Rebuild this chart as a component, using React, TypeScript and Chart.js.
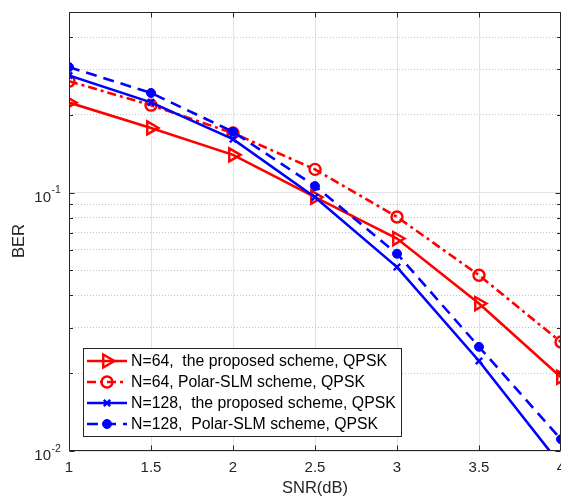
import React, { useEffect, useRef } from 'react';
import { Chart, registerables } from 'chart.js';
import { drawPoint } from 'chart.js/helpers';

Chart.register(...registerables);

// ---------- data ----------
const snr = [1, 1.5, 2, 2.5, 3, 3.5, 4];
const ber64Proposed = [0.223, 0.178, 0.14, 0.096, 0.0664, 0.0372, 0.0193];
const ber64PolarSLM = [0.27, 0.218, 0.17, 0.123, 0.0805, 0.0479, 0.0264];
const ber128Proposed = [0.284, 0.2235, 0.161, 0.096, 0.0515, 0.0223, 0.0088];
const ber128PolarSLM = [0.306, 0.243, 0.172, 0.106, 0.058, 0.0253, 0.0111];

const seriesLabels = [
  'N=64,  the proposed scheme, QPSK',
  'N=64, Polar-SLM scheme, QPSK',
  'N=128,  the proposed scheme, QPSK',
  'N=128,  Polar-SLM scheme, QPSK',
];

const xTicks = [1, 1.5, 2, 2.5, 3, 3.5, 4];
const xTickLabels = ['1', '1.5', '2', '2.5', '3', '3.5', '4'];
const yTicks = [
  0.01, 0.02, 0.03, 0.04, 0.05, 0.06, 0.07, 0.08, 0.09,
  0.1, 0.2, 0.3, 0.4, 0.5,
];
const yMajorTicks = [0.01, 0.1];
const yMajorExponents = ['-2', '-1'];
const xTitle = 'SNR(dB)';
const yTitle = 'BER';

// ---------- style ----------
const FONT = "'Liberation Sans', Arial, Helvetica, sans-serif";
const AXIS_COLOR = '#262626';
const RED = '#ff0000';
const BLUE = '#0000ff';

const isMajor = (v: number | undefined) =>
  v !== undefined && yMajorTicks.some((m) => Math.abs(m - v) < 1e-9);

const toPoints = (ys: number[]) => snr.map((x, i) => ({ x, y: ys[i] }));

const framePlugin = {
  id: 'matlabFrame',
  afterDatasetsDraw(chart: any) {
    const { ctx, chartArea } = chart;
    const { left, right, top, bottom } = chartArea;
    const xs = chart.scales.x;
    const ys = chart.scales.y;
    const L = Math.round(left) + 0.5;
    const R = Math.round(right) - 0.5;
    const T = Math.round(top) + 0.5;
    const B = Math.round(bottom) - 0.5;
    ctx.save();
    ctx.strokeStyle = AXIS_COLOR;
    ctx.lineWidth = 1;
    ctx.setLineDash([]);
    // inward ticks
    ctx.beginPath();
    xTicks.forEach((v) => {
      const px = Math.min(Math.round(xs.getPixelForValue(v)) + 0.5, R);
      ctx.moveTo(px, B);
      ctx.lineTo(px, B - 5);
      ctx.moveTo(px, T);
      ctx.lineTo(px, T + 5);
    });
    yTicks.forEach((v) => {
      const py = Math.round(ys.getPixelForValue(v)) + 0.5;
      const len = isMajor(v) ? 5 : 3.5;
      ctx.moveTo(L, py);
      ctx.lineTo(L + len, py);
      ctx.moveTo(R, py);
      ctx.lineTo(R - len, py);
    });
    ctx.stroke();
    // box
    ctx.beginPath();
    ctx.rect(L, T, R - L, B - T);
    ctx.stroke();

    // y major labels 10^n
    ctx.fillStyle = AXIS_COLOR;
    ctx.textBaseline = 'alphabetic';
    yMajorTicks.forEach((v, i) => {
      const py = ys.getPixelForValue(v);
      ctx.font = `15px ${FONT}`;
      ctx.textAlign = 'right';
      ctx.fillText('10', 51, py + 9);
      ctx.font = `10.5px ${FONT}`;
      ctx.textAlign = 'left';
      ctx.fillText(yMajorExponents[i], 51.5, py + 0.5);
    });

    // y title
    ctx.save();
    ctx.translate(19, 241);
    ctx.rotate(-Math.PI / 2);
    ctx.font = `16.5px ${FONT}`;
    ctx.textAlign = 'center';
    ctx.textBaseline = 'middle';
    ctx.fillText(yTitle, 0, 0);
    ctx.restore();
    ctx.restore();
  },
  afterDraw(chart: any) {
    const { ctx } = chart;
    const boxL = 83.5, boxT = 348.5, boxR = 401.5, boxB = 436.5;
    ctx.save();
    ctx.fillStyle = '#ffffff';
    ctx.fillRect(boxL, boxT, boxR - boxL, boxB - boxT);
    ctx.strokeStyle = AXIS_COLOR;
    ctx.lineWidth = 1;
    ctx.setLineDash([]);
    ctx.strokeRect(boxL, boxT, boxR - boxL, boxB - boxT);
    const rowY = [361, 382, 403, 424];
    chart.data.datasets.forEach((ds: any, i: number) => {
      const y = rowY[i];
      ctx.save();
      ctx.strokeStyle = ds.borderColor;
      ctx.lineWidth = ds.borderWidth;
      ctx.setLineDash(ds.borderDash || []);
      ctx.beginPath();
      ctx.moveTo(87, y);
      ctx.lineTo(127, y);
      ctx.stroke();
      ctx.setLineDash([]);
      ctx.fillStyle = ds.pointBackgroundColor;
      ctx.strokeStyle = ds.pointBorderColor;
      ctx.lineWidth = ds.pointBorderWidth;
      drawPoint(
        ctx,
        {
          pointStyle: ds.pointStyle,
          rotation: ds.pointRotation || 0,
          radius: ds.pointRadius,
          borderWidth: ds.pointBorderWidth,
        } as any,
        107,
        y
      );
      ctx.restore();
      ctx.fillStyle = '#000000';
      ctx.font = `15.8px ${FONT}`;
      ctx.textAlign = 'left';
      ctx.textBaseline = 'middle';
      ctx.fillText(seriesLabels[i], 131, y + 0.5);
    });
    ctx.restore();
  },
};

export default function App() {
  const canvasRef = useRef<HTMLCanvasElement | null>(null);

  useEffect(() => {
    const canvas = canvasRef.current;
    if (!canvas) return;
    const chart = new Chart(canvas, {
      type: 'line',
      data: {
        datasets: [
          {
            label: seriesLabels[0],
            data: toPoints(ber64Proposed),
            borderColor: RED,
            borderWidth: 2.6,
            pointStyle: 'triangle',
            pointRotation: 90,
            pointRadius: 7.5,
            pointBorderWidth: 2.4,
            pointBorderColor: RED,
            pointBackgroundColor: 'rgba(0,0,0,0)',
            order: 3,
          },
          {
            label: seriesLabels[1],
            data: toPoints(ber64PolarSLM),
            borderColor: RED,
            borderWidth: 2.6,
            borderDash: [9, 4, 3, 4],
            pointStyle: 'circle',
            pointRadius: 5.5,
            pointBorderWidth: 2.4,
            pointBorderColor: RED,
            pointBackgroundColor: 'rgba(0,0,0,0)',
            order: 2,
          },
          {
            label: seriesLabels[2],
            data: toPoints(ber128Proposed),
            borderColor: BLUE,
            borderWidth: 2.6,
            pointStyle: 'crossRot',
            pointRadius: 4.5,
            pointBorderWidth: 2.4,
            pointBorderColor: BLUE,
            pointBackgroundColor: BLUE,
            order: 1,
          },
          {
            label: seriesLabels[3],
            data: toPoints(ber128PolarSLM),
            borderColor: BLUE,
            borderWidth: 2.6,
            borderDash: [11, 7],
            pointStyle: 'circle',
            pointRadius: 4.5,
            pointBorderWidth: 1,
            pointBorderColor: BLUE,
            pointBackgroundColor: BLUE,
            order: 0,
          },
        ] as any,
      },
      options: {
        animation: false,
        responsive: false,
        maintainAspectRatio: false,
        events: [],
        layout: { autoPadding: false, padding: { left: 0, right: 0, top: 12, bottom: 0 } },
        plugins: {
          legend: { display: false },
          tooltip: { enabled: false },
        },
        elements: { line: { tension: 0 } },
        scales: {
          x: {
            type: 'linear',
            min: 1,
            max: 4,
            afterBuildTicks: (s: any) => {
              s.ticks = xTicks.map((v) => ({ value: v }));
            },
            afterFit: (s: any) => {
              s.height = 47;
              s.paddingLeft = 0;
              s.paddingRight = 0;
            },
            grid: { color: '#e3e3e3', lineWidth: 1, drawTicks: false },
            border: { display: false },
            ticks: {
              autoSkip: false,
              maxRotation: 0,
              padding: 8,
              color: AXIS_COLOR,
              font: { family: FONT, size: 15 },
              callback: (v: any) => {
                const i = xTicks.findIndex((t) => Math.abs(t - Number(v)) < 1e-9);
                return i >= 0 ? xTickLabels[i] : '';
              },
            },
            title: {
              display: true,
              text: xTitle,
              color: AXIS_COLOR,
              font: { family: FONT, size: 16.5, lineHeight: 1 },
              padding: { top: 0, bottom: 1.5 },
            },
          },
          y: {
            type: 'logarithmic',
            min: 0.01,
            max: 0.5,
            afterBuildTicks: (s: any) => {
              s.ticks = yTicks.map((v) => ({ value: v, major: isMajor(v) }));
            },
            afterFit: (s: any) => {
              s.width = 69;
              s.paddingTop = 0;
              s.paddingBottom = 0;
            },
            grid: {
              drawTicks: false,
              lineWidth: 1,
              color: (c: any) =>
                isMajor(c.tick && c.tick.value) ? '#e3e3e3' : '#c4c4c4',
            },
            border: {
              display: false,
              dash: (c: any) => (c.tick && !isMajor(c.tick.value) ? [1, 2] : []),
            },
            ticks: {
              display: true,
              autoSkip: false,
              callback: () => '',
            },
          },
        },
      } as any,
      plugins: [framePlugin],
    });
    return () => chart.destroy();
  }, []);

  return (
    <div style={{ position: 'absolute', left: 0, top: 0, width: 561, height: 498, background: '#fff' }}>
      <canvas ref={canvasRef} width={561} height={498} style={{ display: 'block' }} />
    </div>
  );
}
